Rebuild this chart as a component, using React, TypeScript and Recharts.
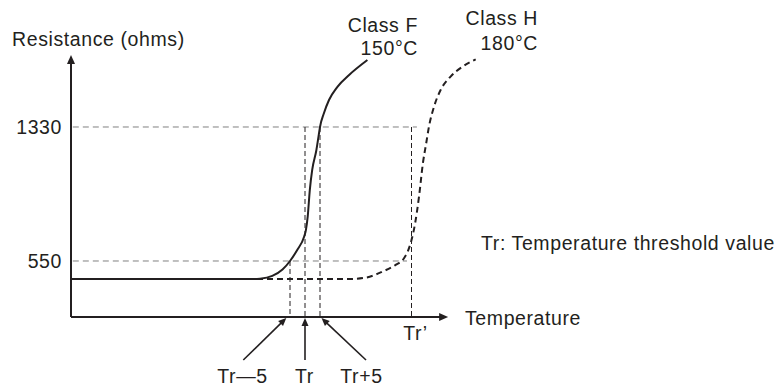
import React from "react";
import { LineChart, Line, XAxis, YAxis, ReferenceLine } from "recharts";

// ---- data (schematic values) ----
const classFTemp = [72, 132.3, 135, 139.1, 142.5, 145, 147.4, 149.7, 150.3, 150.9, 151.6, 152.4, 153.8, 154.6, 155, 156.3, 158, 160.8, 164.7, 170.8];
const classFRes = [445, 445, 447, 463, 500, 550, 614, 691, 730, 808, 963, 1080, 1196, 1285, 1330, 1410, 1487, 1564, 1633, 1720];
const classHTemp = [134, 164.7, 170.2, 175.8, 180.2, 183, 184.3, 185.4, 186.7, 188, 189.3, 190.4, 191.3, 193, 195.2, 198.6, 202.4, 206.9];
const classHRes = [445, 445, 453, 488, 527, 566, 608, 665, 769, 924, 1119, 1235, 1330, 1448, 1545, 1625, 1680, 1724];

const resTicks = [550, 1330];
const tempTicks = [145, 150, 155, 185.5];
const tempTickLabels = ["Tr\u20145", "Tr", "Tr+5", "Tr\u2019"];

// guide lines
const hGuideValues = [1330, 550];
const hGuideEnds = [187.3, 184];
const vGuideTemps = [145, 150, 155, 185.5];
const vGuideTops = [550, 1330, 1330, 1330];

const xMin = 72;
const xMax = 215;
const xAxisEnd = 197.7;
const yMin = 224;
const yMax = 1749;

const classFData = classFTemp.map((t, i) => ({ t, r: classFRes[i] }));
const classHData = classHTemp.map((t, i) => ({ t, r: classHRes[i] }));

const INK = "#231f20";
const FONT = "'Liberation Sans', Arial, Helvetica, sans-serif";

function head(x1: number, y1: number, x2: number, y2: number, len: number, half: number) {
  const dx = x2 - x1;
  const dy = y2 - y1;
  const d = Math.sqrt(dx * dx + dy * dy) || 1;
  const ux = dx / d;
  const uy = dy / d;
  const bx = x2 - ux * len;
  const by = y2 - uy * len;
  const px = -uy;
  const py = ux;
  return `${x2},${y2} ${bx + px * half},${by + py * half} ${bx - px * half},${by - py * half}`;
}

const ArrowLine = (p: any) => {
  const { x1, y1, x2, y2 } = p;
  if ([x1, y1, x2, y2].some((v) => v == null || isNaN(v))) return null;
  const len = 9;
  const dx = x2 - x1;
  const dy = y2 - y1;
  const d = Math.sqrt(dx * dx + dy * dy) || 1;
  return (
    <g>
      <line x1={x1} y1={y1} x2={x2 - (dx / d) * (len - 1)} y2={y2 - (dy / d) * (len - 1)} stroke={INK} strokeWidth={2} />
      <polygon points={head(x1, y1, x2, y2, len, 4)} fill={INK} />
    </g>
  );
};

const tickLayout = [
  { ax: -46.7, ay: 43, tx: -3.7, ty: 1, lx: -47.5, ly: 66, arrow: true },
  { ax: 0, ay: 43, tx: 0, ty: 1, lx: -0.5, ly: 66, arrow: true },
  { ax: 46, ay: 43, tx: 1.5, ty: 1, lx: 41.5, ly: 66, arrow: true },
  { ax: 0, ay: 0, tx: 0, ty: 0, lx: 4, ly: 23, arrow: false },
];

const TempTick = (props: any) => {
  const { x, y, payload } = props;
  const idx = tempTicks.indexOf(payload.value);
  if (idx < 0) return null;
  const L = tickLayout[idx];
  const x1 = x + L.ax;
  const y1 = y + L.ay;
  const x2 = x + L.tx;
  const y2 = y + L.ty;
  const len = 8;
  const dx = x2 - x1;
  const dy = y2 - y1;
  const d = Math.sqrt(dx * dx + dy * dy) || 1;
  return (
    <g>
      {L.arrow && (
        <>
          <line x1={x1} y1={y1} x2={x2 - (dx / d) * (len - 1)} y2={y2 - (dy / d) * (len - 1)} stroke={INK} strokeWidth={1.6} />
          <polygon points={head(x1, y1, x2, y2, len, 3.5)} fill={INK} />
        </>
      )}
      <text x={x + L.lx} y={y + L.ly} textAnchor="middle" fontSize={19.5} letterSpacing={0.6} fill={INK} fontFamily={FONT}>
        {tempTickLabels[idx]}
      </text>
    </g>
  );
};

export default function App() {
  return (
    <div style={{ position: "absolute", left: 0, top: 0, width: 782, height: 387, background: "#fff" }}>
      <LineChart width={782} height={387} data={classFData} margin={{ top: 55, right: 282, bottom: 0, left: 0 }}>
        <XAxis
          dataKey="t"
          type="number"
          domain={[xMin, xMax]}
          ticks={tempTicks}
          interval={0}
          allowDataOverflow
          axisLine={false}
          tickLine={false}
          tickSize={0}
          tickMargin={0}
          height={70}
          tick={<TempTick />}
        />
        <YAxis
          type="number"
          domain={[yMin, yMax]}
          ticks={resTicks}
          interval={0}
          allowDataOverflow
          axisLine={false}
          tickLine={false}
          tickMargin={3}
          width={71}
          tick={{ fill: INK, fontSize: 19.5, fontFamily: FONT, letterSpacing: 0.6 }}
        />
        {hGuideValues.map((v, i) => (
          <ReferenceLine
            key={"h" + i}
            segment={[{ x: xMin + 0.6, y: v }, { x: hGuideEnds[i], y: v }]}
            stroke="#808080"
            strokeWidth={1}
            strokeDasharray="6 4"
          />
        ))}
        {vGuideTemps.map((t, i) => (
          <ReferenceLine
            key={"v" + i}
            segment={[{ x: t, y: vGuideTops[i] }, { x: t, y: yMin }]}
            stroke={INK}
            strokeWidth={1}
            strokeDasharray="5 3"
          />
        ))}
        <Line
          data={classHData}
          dataKey="r"
          type="monotone"
          stroke={INK}
          strokeWidth={2}
          strokeDasharray="6 4"
          dot={false}
          activeDot={false}
          isAnimationActive={false}
        />
        <Line
          data={classFData}
          dataKey="r"
          type="monotone"
          stroke={INK}
          strokeWidth={2}
          dot={false}
          activeDot={false}
          isAnimationActive={false}
        />
        <ReferenceLine segment={[{ x: xMin, y: yMin }, { x: xMin, y: yMax }]} shape={(p: any) => <ArrowLine {...p} />} />
        <ReferenceLine segment={[{ x: xMin, y: yMin }, { x: xAxisEnd, y: yMin }]} shape={(p: any) => <ArrowLine {...p} />} />
        <g fontFamily={FONT} fontSize={19.5} fill={INK} letterSpacing={0.6}>
          <text x={12} y={46}>Resistance (ohms)</text>
          <text x={418} y={32} textAnchor="end">Class F</text>
          <text x={418} y={55} textAnchor="end">150°C</text>
          <text x={538} y={25} textAnchor="end">Class H</text>
          <text x={538} y={50} textAnchor="end">180°C</text>
          <text x={465} y={325}>Temperature</text>
          <text x={481} y={250}>Tr: Temperature threshold value</text>
        </g>
      </LineChart>
    </div>
  );
}
